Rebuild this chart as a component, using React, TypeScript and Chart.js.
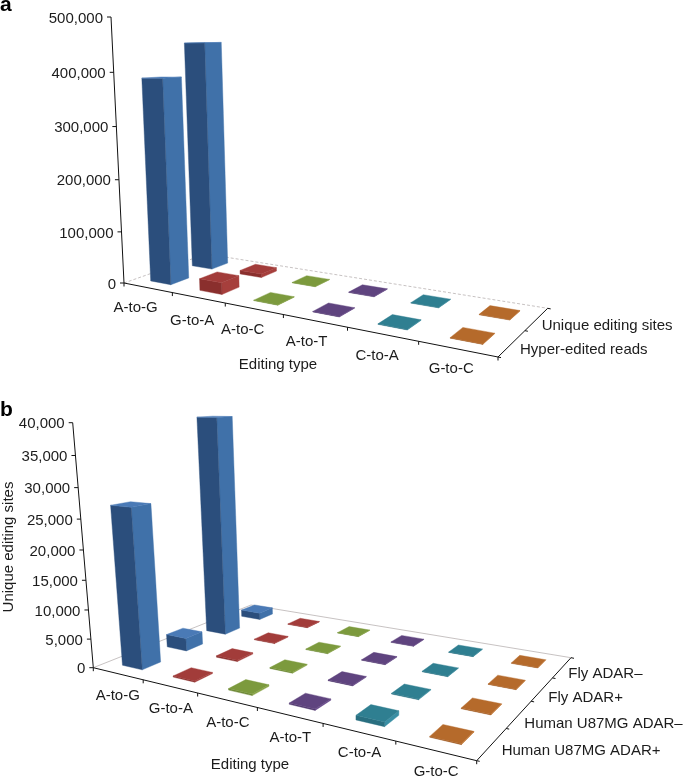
import React, { useEffect, useRef } from "react";
import { Chart, registerables } from "chart.js";

Chart.register(...registerables);

const categories = ["A-to-G", "G-to-A", "A-to-C", "A-to-T", "C-to-A", "G-to-C"];

const seriesA = ["Hyper-edited reads", "Unique editing sites"];
const hyperEditedReads = [388000, 22000, 800, 800, 800, 800];
const uniqueEditingSites = [451000, 7000, 700, 700, 700, 700];
const ticksMaxA = 500000;

const seriesB = ["Human U87MG ADAR+", "Human U87MG ADAR–", "Fly ADAR+", "Fly ADAR–"];
const humanAdarPlus = [27000, 200, 250, 200, 700, 120];
const humanAdarMinus = [2300, 250, 150, 100, 120, 100];
const flyAdarPlus = [39800, 120, 100, 80, 80, 80];
const flyAdarMinus = [1300, 80, 70, 70, 70, 70];
const ticksMaxB = 40000;

const faceColors = [
  { front: "#2b4e7c", right: "#4071a9", top: "#4a7ab6" },
  { front: "#8a2f2d", right: "#a63f3c", top: "#a23c3a" },
  { front: "#6d8836", right: "#8aa548", top: "#7c9a3d" },
  { front: "#523a70", right: "#6a4c8e", top: "#5f447f" },
  { front: "#296f80", right: "#3a8fa4", top: "#2f7f91" },
  { front: "#9e5c25", right: "#c47a35", top: "#b56a2b" },
];

const FONT = '"Liberation Sans", Arial, sans-serif';
const TEXT = "#1c1c1c";

type Pt = [number, number];

interface PanelGeom {
  top: number;
  height: number;
  corners: [Pt, Pt, Pt, Pt];
  axisTop: Pt;
  k: number;
  letter: string;
  letterY: number;
  catLabelOffset: Pt;
  catLabelNudge: Pt[];
  editingType: Pt;
  seriesLabels: Pt[];
  yTitle?: { text: string; x: number; y: number };
  floorDash: number[];
  uFrac: number;
  vFrac: number;
}

function makeProjector(g: PanelGeom) {
  const [p0, p1, p2, p3] = g.corners;
  const dx1 = p1[0] - p2[0], dx2 = p3[0] - p2[0], dx3 = p0[0] - p1[0] + p2[0] - p3[0];
  const dy1 = p1[1] - p2[1], dy2 = p3[1] - p2[1], dy3 = p0[1] - p1[1] + p2[1] - p3[1];
  const den = dx1 * dy2 - dx2 * dy1;
  const gg = (dx3 * dy2 - dx2 * dy3) / den;
  const hh = (dx1 * dy3 - dx3 * dy1) / den;
  const a = p1[0] - p0[0] + gg * p1[0];
  const b = p3[0] - p0[0] + hh * p3[0];
  const d = p1[1] - p0[1] + gg * p1[1];
  const e = p3[1] - p0[1] + hh * p3[1];
  const cx = g.axisTop[0] * (1 + g.k) - p0[0];
  const cy = g.axisTop[1] * (1 + g.k) - p0[1];
  return (u: number, v: number, z: number): Pt => {
    const w = gg * u + hh * v + g.k * z + 1;
    return [(a * u + b * v + cx * z + p0[0]) / w, (d * u + e * v + cy * z + p0[1]) / w];
  };
}

function poly(ctx: CanvasRenderingContext2D, pts: Pt[], fill: string) {
  ctx.beginPath();
  pts.forEach((p, i) => (i ? ctx.lineTo(p[0], p[1]) : ctx.moveTo(p[0], p[1])));
  ctx.closePath();
  ctx.fillStyle = fill;
  ctx.fill();
  ctx.strokeStyle = fill;
  ctx.lineWidth = 0.4;
  ctx.stroke();
}

function seg(ctx: CanvasRenderingContext2D, a: Pt, b: Pt) {
  ctx.beginPath();
  ctx.moveTo(a[0], a[1]);
  ctx.lineTo(b[0], b[1]);
  ctx.stroke();
}

function makePlugin(g: PanelGeom) {
  return {
    id: "scene3d",
    afterDatasetsDraw(chart: any) {
      const ctx: CanvasRenderingContext2D = chart.ctx;
      const { x, y, depth } = chart.scales;
      const project = makeProjector(g);
      const uOf = (i: number) => (x.getPixelForValue(i) - x.left) / x.width;
      const vOf = (j: number) => (depth.getPixelForValue(j) - depth.left) / depth.width;
      const zOf = (val: number) => (y.bottom - y.getPixelForValue(val)) / (y.bottom - y.top);
      const nCat = chart.data.labels.length;
      const sets = chart.data.datasets;
      const nSer = sets.length;
      const cellU = 1 / nCat;
      const cellV = 1 / nSer;

      ctx.save();
      ctx.translate(0, -g.top);

      // floor edges
      ctx.strokeStyle = "#b9b3b3";
      ctx.lineWidth = 0.8;
      ctx.setLineDash(g.floorDash);
      seg(ctx, project(0, 0, 0), project(0, 1, 0));
      seg(ctx, project(0, 1, 0), project(1, 1, 0));
      ctx.setLineDash([]);

      // prisms, from the back row to the front one
      for (let j = nSer - 1; j >= 0; j--) {
        for (let i = nCat - 1; i >= 0; i--) {
          const val = sets[j].data[i];
          const uc = uOf(i), vc = vOf(j);
          const u0 = uc - (g.uFrac * cellU) / 2, u1 = uc + (g.uFrac * cellU) / 2;
          const v0 = vc - (g.vFrac * cellV) / 2, v1 = vc + (g.vFrac * cellV) / 2;
          const z = zOf(val);
          const c = faceColors[i];
          poly(ctx, [project(u1, v0, 0), project(u1, v1, 0), project(u1, v1, z), project(u1, v0, z)], c.right);
          poly(ctx, [project(u0, v0, 0), project(u1, v0, 0), project(u1, v0, z), project(u0, v0, z)], c.front);
          poly(ctx, [project(u0, v0, z), project(u1, v0, z), project(u1, v1, z), project(u0, v1, z)], c.top);
        }
      }

      // axes
      ctx.strokeStyle = "#111";
      ctx.lineWidth = 1;
      seg(ctx, project(0, 0, 0), project(0, 0, 1));
      seg(ctx, project(0, 0, 0), project(1, 0, 0));
      seg(ctx, project(1, 0, 0), project(1, 1, 0));

      ctx.font = `15px ${FONT}`;
      ctx.fillStyle = TEXT;

      // value axis, from the library's ticks
      ctx.textAlign = "right";
      ctx.textBaseline = "middle";
      y.ticks.forEach((t: any) => {
        const p = project(0, 0, zOf(t.value));
        seg(ctx, p, [p[0] - 4, p[1]]);
        ctx.fillText(Number(t.value).toLocaleString("en-US"), p[0] - 8, p[1] + 1.5);
      });

      // category axis
      ctx.textAlign = "center";
      for (let i = 0; i <= nCat; i++) {
        const p = project(i / nCat, 0, 0);
        seg(ctx, p, [p[0], p[1] + 3.5]);
      }
      chart.data.labels.forEach((label: string, i: number) => {
        const p = project(uOf(i), 0, 0);
        const n = g.catLabelNudge[i];
        ctx.fillText(label, p[0] + g.catLabelOffset[0] + n[0], p[1] + g.catLabelOffset[1] + n[1]);
      });
      ctx.fillText("Editing type", g.editingType[0], g.editingType[1]);

      // depth axis
      ctx.textAlign = "left";
      for (let j = 0; j <= nSer; j++) {
        const p = project(1, j / nSer, 0);
        seg(ctx, p, [p[0] + 3, p[1] + 0.6]);
      }
      sets.forEach((s: any, j: number) => {
        const pos = g.seriesLabels[j];
        ctx.fillText(s.label, pos[0], pos[1]);
      });

      if (g.yTitle) {
        ctx.save();
        ctx.translate(g.yTitle.x, g.yTitle.y);
        ctx.rotate(-Math.PI / 2);
        ctx.textAlign = "center";
        ctx.fillText(g.yTitle.text, 0, 0);
        ctx.restore();
      }

      ctx.font = `bold 21px ${FONT}`;
      ctx.fillStyle = "#000";
      ctx.textAlign = "left";
      ctx.textBaseline = "alphabetic";
      ctx.fillText(g.letter, 0, g.letterY);
      ctx.restore();
    },
  };
}

const geomA: PanelGeom = {
  top: 0,
  height: 395,
  corners: [[124, 283], [498, 357], [547.7, 308.3], [206, 254]],
  axisTop: [111, 17],
  k: -0.048,
  letter: "a",
  letterY: 11,
  catLabelOffset: [-10, 20],
  catLabelNudge: [[-2, 0], [4, 3], [-1, 1], [2, 1], [5, 2], [4, 0]],
  editingType: [278, 365],
  seriesLabels: [[520, 350], [541.7, 326]],
  floorDash: [3, 2],
  uFrac: 0.42,
  vFrac: 0.42,
};

const geomB: PanelGeom = {
  top: 395,
  height: 384,
  corners: [[93.3, 667.7], [476.7, 760.7], [571, 657.7], [251, 605]],
  axisTop: [72.7, 422.7],
  k: -0.0754,
  letter: "b",
  letterY: 416,
  catLabelOffset: [1, 22],
  catLabelNudge: [[-1, 0], [0, 1], [0, 1], [0, 1], [0, -1], [0, -1]],
  editingType: [250, 765],
  seriesLabels: [[501.7, 751], [524.3, 724], [548.3, 698], [568.3, 674]],
  yTitle: { text: "Unique editing sites", x: 8.5, y: 547 },
  floorDash: [],
  uFrac: 0.4,
  vFrac: 0.4,
};

function makeConfig(g: PanelGeom, series: string[], rows: number[][], yMax: number, step: number): any {
  return {
    type: "bar",
    data: {
      labels: categories,
      datasets: series.map((label, j) => ({
        label,
        data: rows[j],
        xAxisID: "x",
        yAxisID: "y",
        backgroundColor: "rgba(0,0,0,0)",
        borderWidth: 0,
      })),
    },
    options: {
      animation: false,
      responsive: false,
      events: [],
      layout: { padding: 0 },
      plugins: { legend: { display: false }, tooltip: { enabled: false }, title: { display: false } },
      scales: {
        x: { type: "category", display: false, offset: true },
        depth: { type: "category", axis: "x", display: false, offset: true, labels: series },
        y: { type: "linear", display: false, min: 0, max: yMax, ticks: { stepSize: step } },
      },
    },
    plugins: [makePlugin(g)],
  };
}

function Panel({ geom, config }: { geom: PanelGeom; config: any }) {
  const ref = useRef<HTMLCanvasElement>(null);
  useEffect(() => {
    const chart = new Chart(ref.current as HTMLCanvasElement, config);
    return () => chart.destroy();
  }, []);
  return (
    <canvas
      ref={ref}
      width={685}
      height={geom.height}
      style={{ position: "absolute", left: 0, top: geom.top, width: 685, height: geom.height, display: "block" }}
    />
  );
}

export default function App() {
  return (
    <div style={{ position: "fixed", left: 0, top: 0, width: 685, height: 779, background: "#fff", overflow: "hidden" }}>
      <Panel geom={geomA} config={makeConfig(geomA, seriesA, [hyperEditedReads, uniqueEditingSites], ticksMaxA, 100000)} />
      <Panel
        geom={geomB}
        config={makeConfig(geomB, seriesB, [humanAdarPlus, humanAdarMinus, flyAdarPlus, flyAdarMinus], ticksMaxB, 5000)}
      />
    </div>
  );
}
